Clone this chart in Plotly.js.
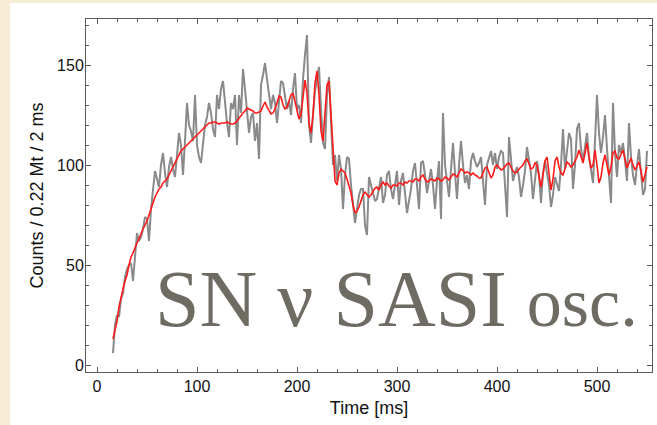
<!DOCTYPE html>
<html>
<head>
<meta charset="utf-8">
<script src="https://cdn.plot.ly/plotly-3.0.1.min.js"></script>
<style>
html,body{margin:0;padding:0;width:657px;height:425px;overflow:hidden;background:#f6ecd6;}
#chart{position:absolute;left:10px;top:3px;width:647px;height:422px;}
</style>
</head>
<body>
<div id="chart"></div>
<script>
// time bins (ms): first bin and bin width
const binStart = 16;
const binWidth = 2;

// measured counts per 2 ms bin (gray)
const counts = [
  6,20,25,24,33,36,44,48,50,51,
  42,55,66,62,64,68,74,73,62,78,
  88,97,93,89,100,106,96,89,99,104,
  98,94,105,116,110,95,112,131,120,117,
  112,135,110,104,101,112,120,124,131,126,
  118,114,135,128,138,142,130,121,114,131,
  128,135,110,135,126,148,138,128,116,124,
  126,112,121,103,140,145,151,143,136,128,
  135,131,121,130,142,141,134,128,132,125,
  138,146,128,130,121,143,155,165,120,111,
  125,137,143,149,128,111,108,135,144,118,
  100,105,92,105,98,78,95,104,103,90,
  80,71,78,85,88,88,70,65,94,90,
  86,82,83,88,94,81,85,95,97,88,
  83,90,97,80,92,96,85,76,82,88,
  97,101,90,78,101,102,95,86,92,98,
  90,78,92,102,73,126,100,91,84,98,
  111,96,83,100,112,100,91,95,88,102,
  106,102,99,101,104,92,80,100,103,107,
  100,106,98,104,107,106,90,74,114,104,
  92,96,99,94,84,90,97,109,101,96,
  83,92,102,95,81,96,102,96,90,79,
  85,94,90,87,100,118,98,108,116,113,
  88,100,118,121,108,102,110,116,104,96,
  91,112,135,116,106,114,125,108,96,81,
  131,106,94,110,106,111,102,92,121,104,
  95,90,100,108,96,85,88,107
];

// smoothed rate (red)
const smooth = [
  13,18,22,29,34,38,42,45,50,54,
  56,59,61,63,66,68,70,72,75,78,
  82,84,86,88,89,91,92,93,95,97,
  99,101,103,105,107,108,109,110,111,112,
  113,114,115,116,117,118,119,120,121,121,
  121.5,121.5,121,120.5,121,121,121,121.5,121,120.5,
  120.5,121,122,123.5,125,126,127,128.5,128,127.5,
  127,126,126,126.5,127,129.5,131.5,129,127,125.5,
  126,128,131,134.5,134,130,128,129,132,135,
  136,132,127,123,125,134,142.5,136,121,116,
  125,141,147,135,117,112,124,140,142,125,
  103.5,92,90,96,98,97,96,93,90,86,
  80,76,77,79,82,85,86.5,85.5,84,85,
  87,88.5,89,87.5,90,91.5,90,91,89.5,88.5,
  90,90,89.5,91,91,90,91.5,91,92,92,
  91.5,93,93,92,94,95,93,91.5,92,93,
  92.5,92,93.5,93,92,92.5,94,93.5,92.5,94,
  95.5,95,94,96,98,97.5,96,96.5,96,95,
  96,95,94.5,93.5,93.5,96,98.5,99,96,93.5,
  95,99,100,98.5,97.5,98,99.5,100.5,101,99,
  97,96,96.5,98,99,100,102,103,100.5,98,
  98.5,101,100,94,89,95,102,104,96,87.5,
  93,102,104,99,96,95,98,101.5,100.5,99,
  100,102,104,107.5,104,101,106,111,104,98.5,
  100,107.5,100,91,94,101,105,100,95,99,
  106,107,103.5,103,105.5,107.5,103,98.5,101,103.5,
  100,97.5,99.5,101.5,97,91.5,95,99
];

const xTitle = "Time [ms]";
const yTitle = "Counts / 0.22 Mt / 2 ms";
const label = 'SN ν SASI <span style="font-size:70px">osc.</span>';

const time = counts.map((_, i) => binStart + binWidth * i);

const fontFam = 'Liberation Sans, Arial, sans-serif';
const axisCommon = {
  showline: true, mirror: 'allticks', linecolor: '#5a5a5a', linewidth: 1,
  ticks: 'inside', ticklen: 5, tickcolor: '#5a5a5a', tickwidth: 1,
  showgrid: false, zeroline: false,
  tickfont: {family: fontFam, size: 16, color: '#111'}
};

const layout = {
  width: 647, height: 422,
  margin: {l: 76, r: 5, t: 16, b: 53},
  paper_bgcolor: '#ffffff', plot_bgcolor: '#ffffff',
  showlegend: false,
  xaxis: Object.assign({}, axisCommon, {
    range: [-11, 555], tickvals: [0,100,200,300,400,500],
    minor: {dtick: 20, tick0: 0, ticks: 'inside', ticklen: 3, tickcolor: '#5a5a5a'},
    title: {text: xTitle, font: {family: fontFam, size: 18, color: '#111'}, standoff: 7}
  }),
  yaxis: Object.assign({}, axisCommon, {
    range: [-3.5, 173], tickvals: [0,50,100,150],
    ticklabelstandoff: -2,
    minor: {dtick: 10, tick0: 0, ticks: 'inside', ticklen: 3, tickcolor: '#5a5a5a'},
    title: {text: yTitle, font: {family: fontFam, size: 18, color: '#111'}, standoff: 8}
  }),
  annotations: [{
    xref: 'x', yref: 'y', x: 56, y: 33, xanchor: 'left', yanchor: 'middle',
    text: label, showarrow: false,
    font: {family: 'Liberation Serif, Times New Roman, serif', size: 80, color: '#6e6b63'}
  }]
};

const data = [
  {x: time, y: counts, type: 'scatter', mode: 'lines',
   line: {color: '#8a8a8a', width: 2}, hoverinfo: 'skip'},
  {x: time, y: smooth, type: 'scatter', mode: 'lines',
   line: {color: '#ff1a1a', width: 1.6}, hoverinfo: 'skip'}
];

Plotly.newPlot('chart', data, layout, {staticPlot: true, displayModeBar: false});
</script>
</body>
</html>
